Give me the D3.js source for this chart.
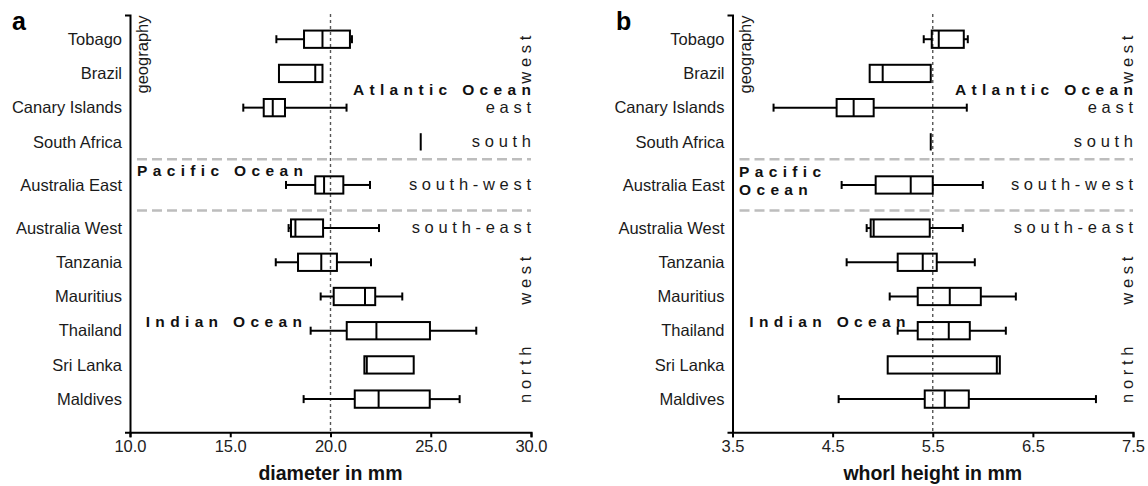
<!DOCTYPE html>
<html>
<head>
<meta charset="utf-8">
<script src="https://cdn.jsdelivr.net/npm/d3@7/dist/d3.min.js"></script>
<style>
  html, body { margin: 0; padding: 0; background: #fff; }
  svg { display: block; font-family: "Liberation Sans", Arial, sans-serif; }
</style>
</head>
<body>
<svg id="chart" width="1148" height="486"></svg>
<script>
// ---------------- data ----------------
const categories = ["Tobago", "Brazil", "Canary Islands", "South Africa", "Australia East",
  "Australia West", "Tanzania", "Mauritius", "Thailand", "Sri Lanka", "Maldives"];
const oceans = ["Atlantic", "Atlantic", "Atlantic", "Atlantic", "Pacific",
  "Indian", "Indian", "Indian", "Indian", "Indian", "Indian"];

// panel a: diameter in mm
const diamMin = [17.30, 17.43, 15.65, 24.50, 17.78, 17.91, 17.27, 19.51, 19.01, 21.69, 18.66];
const diamQ1  = [18.68, 17.43, 16.67, 24.50, 19.24, 18.03, 18.38, 20.16, 20.81, 21.69, 21.21];
const diamMed = [19.60, 19.24, 17.12, 24.50, 19.68, 18.25, 19.54, 21.72, 22.29, 21.81, 22.40];
const diamQ3  = [20.97, 19.60, 17.73, 24.50, 20.64, 19.63, 20.32, 22.23, 24.96, 24.15, 24.95];
const diamMax = [21.07, 19.60, 20.80, 24.50, 21.97, 22.42, 22.02, 23.58, 27.27, 24.15, 26.44];

// panel b: whorl height in mm
const whorlMin = [5.41, 4.87, 3.91, 5.48, 4.59, 4.84, 4.64, 5.07, 5.15, 5.05, 4.56];
const whorlQ1  = [5.49, 4.87, 4.54, 5.48, 4.93, 4.88, 5.15, 5.35, 5.35, 5.05, 5.42];
const whorlMed = [5.56, 5.00, 4.71, 5.48, 5.28, 4.91, 5.40, 5.67, 5.66, 6.14, 5.62];
const whorlQ3  = [5.81, 5.48, 4.91, 5.48, 5.50, 5.47, 5.54, 5.98, 5.87, 6.17, 5.86];
const whorlMax = [5.85, 5.48, 5.84, 5.48, 6.00, 5.80, 5.92, 6.33, 6.23, 6.17, 7.13];

const diamTicks = [10, 15, 20, 25, 30];
const whorlTicks = [3.5, 4.5, 5.5, 6.5, 7.5];
const diamRef = 20.0;
const whorlRef = 5.5;

const panelLetters = ["a", "b"];
const axisTitles = ["diameter in mm", "whorl height in mm"];
const sideTitle = "geography";

// ---------------- layout ----------------
const svg = d3.select("#chart");
const FONT = 16.5;
const OCEAN_FONT = 15.5, OCEAN_LS = 5.35, REG_LS = 4.7;

// row positions in row units (groups separated by an extra gap)
const groupGap = 0.26;
const rowPos = [];
categories.forEach((c, i) => {
  if (i === 0) rowPos.push(0);
  else rowPos.push(rowPos[i - 1] + 1 + (oceans[i] !== oceans[i - 1] ? groupGap : 0));
});
const sepPos = [rowPos[3] + 0.51, rowPos[5] - 0.51];

const y = d3.scaleLinear().domain([-0.708, 11.49]).range([15, 432.3]);

const panels = [
  { letter: panelLetters[0], x0: 130, x1: 531, domain: [10, 30], ticks: diamTicks, ref: diamRef,
    min: diamMin, q1: diamQ1, med: diamMed, q3: diamQ3, max: diamMax, title: axisTitles[0],
    letterX: 12, pacific: ["Pacific Ocean"], pacificDx: 7, indianDx: 15.7, twoLine: false },
  { letter: panelLetters[1], x0: 732.5, x1: 1133, domain: [3.5, 7.5], ticks: whorlTicks, ref: whorlRef,
    min: whorlMin, q1: whorlQ1, med: whorlMed, q3: whorlQ3, max: whorlMax, title: axisTitles[1],
    letterX: 616, pacific: ["Pacific", "Ocean"], pacificDx: 6.5, indianDx: 16.8, twoLine: true }
];

const boxH = 17.3, capH = 8;

panels.forEach(p => {
  const g = svg.append("g");
  const x = d3.scaleLinear().domain(p.domain).range([p.x0, p.x1]);

  // separators
  g.selectAll("line.sep").data(sepPos).join("line")
    .attr("x1", p.x0 + 7).attr("x2", p.x1)
    .attr("y1", d => y(d)).attr("y2", d => y(d))
    .attr("stroke", "#bdbdbd").attr("stroke-width", 2.5).attr("stroke-dasharray", "10,5");

  // reference dotted line
  g.append("line")
    .attr("x1", x(p.ref)).attr("x2", x(p.ref))
    .attr("y1", 14).attr("y2", y.range()[1])
    .attr("stroke", "#555").attr("stroke-width", 1.4).attr("stroke-dasharray", "3,3");

  // x axis
  const xa = g.append("g").attr("transform", `translate(0,${y.range()[1]})`)
    .call(d3.axisBottom(x).tickValues(p.ticks).tickFormat(d3.format(".1f")).tickSize(5).tickSizeOuter(5).tickPadding(3));
  xa.selectAll("path, line").attr("stroke", "#000").attr("stroke-width", 2);
  xa.selectAll("text").attr("font-size", FONT).attr("fill", "#222").attr("font-family", "Liberation Sans, Arial, sans-serif");

  // y axis
  const ya = g.append("g").attr("transform", `translate(${p.x0},0)`)
    .call(d3.axisLeft(y).tickValues([]).tickSizeOuter(5));
  ya.selectAll("path").attr("stroke", "#000").attr("stroke-width", 2);

  // category labels
  g.selectAll("text.cat").data(categories).join("text")
    .attr("x", p.x0 - 8).attr("y", (d, i) => y(rowPos[i]))
    .attr("dy", "0.35em").attr("text-anchor", "end")
    .attr("font-size", FONT).attr("fill", "#1a1a1a").text(d => d);

  // boxplots
  const rows = categories.map((c, i) => ({ c, i, min: p.min[i], q1: p.q1[i], med: p.med[i], q3: p.q3[i], max: p.max[i] }));
  const bg = g.selectAll("g.box").data(rows).join("g").attr("transform", d => `translate(0,${y(rowPos[d.i])})`);
  const stroke = { stroke: "#000", "stroke-width": 2 };
  // lower whisker
  bg.filter(d => d.min < d.q1).each(function (d) {
    const s = d3.select(this);
    s.append("line").attr("x1", x(d.min)).attr("x2", x(d.q1)).attr("y1", 0).attr("y2", 0).attr("stroke", "#000").attr("stroke-width", 2);
    s.append("line").attr("x1", x(d.min)).attr("x2", x(d.min)).attr("y1", -capH / 2).attr("y2", capH / 2).attr("stroke", "#000").attr("stroke-width", 2);
  });
  bg.filter(d => d.max > d.q3).each(function (d) {
    const s = d3.select(this);
    s.append("line").attr("x1", x(d.q3)).attr("x2", x(d.max)).attr("y1", 0).attr("y2", 0).attr("stroke", "#000").attr("stroke-width", 2);
    s.append("line").attr("x1", x(d.max)).attr("x2", x(d.max)).attr("y1", -capH / 2).attr("y2", capH / 2).attr("stroke", "#000").attr("stroke-width", 2);
  });
  bg.append("rect")
    .attr("x", d => x(d.q1)).attr("width", d => x(d.q3) - x(d.q1))
    .attr("y", -boxH / 2).attr("height", boxH)
    .attr("fill", "none").attr("stroke", "#000").attr("stroke-width", 2);
  bg.append("line")
    .attr("x1", d => x(d.med)).attr("x2", d => x(d.med))
    .attr("y1", -boxH / 2).attr("y2", boxH / 2)
    .attr("stroke", "#000").attr("stroke-width", 2);

  // panel letter
  g.append("text").attr("x", p.letterX).attr("y", 30)
    .attr("font-size", 25).attr("font-weight", "bold").attr("fill", "#000").text(p.letter);

  // side title "geography"
  g.append("text")
    .attr("transform", `translate(${p.x0 + 18},15.5) rotate(-90)`)
    .attr("text-anchor", "end").attr("font-size", FONT).attr("fill", "#1a1a1a").text(sideTitle);

  // axis title
  g.append("text").attr("x", (p.x0 + p.x1) / 2).attr("y", 480)
    .attr("text-anchor", "middle").attr("font-size", 19.5).attr("font-weight", "bold").attr("fill", "#111").text(p.title);

  // region labels (horizontal, right aligned)
  const regH = [
    { t: "east", r: rowPos[2] },
    { t: "south", r: rowPos[3] },
    { t: "south-west", r: rowPos[4] },
    { t: "south-east", r: rowPos[5] }
  ];
  g.selectAll("text.reg").data(regH).join("text")
    .attr("x", p.x1 + REG_LS).attr("y", d => y(d.r)).attr("dy", "0.3em")
    .attr("text-anchor", "end").attr("font-size", FONT).attr("letter-spacing", REG_LS)
    .attr("fill", "#1a1a1a").text(d => d.t);

  // region labels (rotated)
  const regV = [
    { t: "west", r: 0.46 },
    { t: "west", r: 6.92 },
    { t: "north", r: 9.67 }
  ];
  g.selectAll("text.regv").data(regV).join("text")
    .attr("transform", d => `translate(${p.x1},${y(d.r) + REG_LS / 2}) rotate(-90)`)
    .attr("text-anchor", "middle").attr("font-size", FONT).attr("letter-spacing", REG_LS)
    .attr("fill", "#1a1a1a").text(d => d.t);

  // ocean labels
  const oceanAttrs = s => s.attr("font-size", OCEAN_FONT).attr("font-weight", "bold")
    .attr("letter-spacing", OCEAN_LS).attr("fill", "#111");
  g.append("text").attr("x", p.x1 + OCEAN_LS).attr("y", y(1.632)).attr("text-anchor", "end")
    .call(oceanAttrs).text("Atlantic Ocean");
  p.pacific.forEach((t, k) => {
    g.append("text").attr("x", p.x0 + p.pacificDx).attr("y", y(p.twoLine ? 4.02 : 4.0) + k * 18.3)
      .call(oceanAttrs).text(t);
  });
  g.append("text").attr("x", p.x0 + p.indianDx).attr("y", y(8.40))
    .call(oceanAttrs).text("Indian Ocean");
});
</script>
</body>
</html>
